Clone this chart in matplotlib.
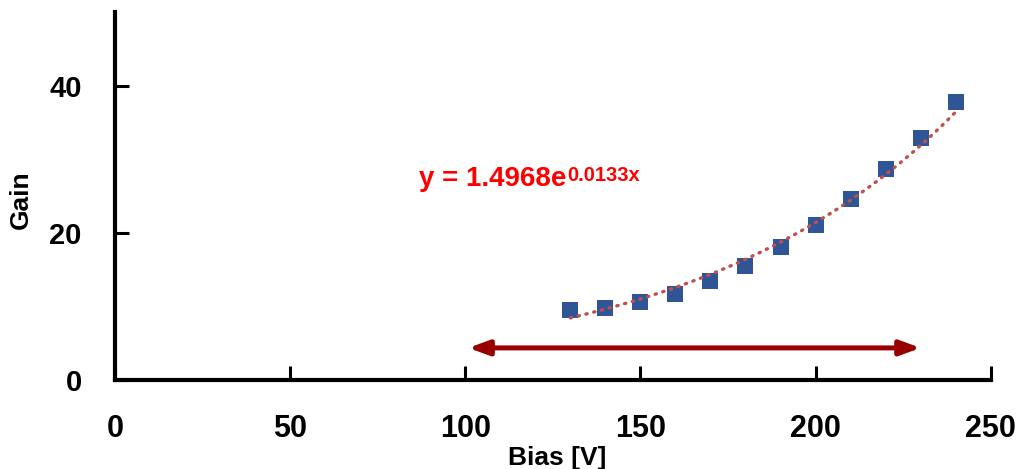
import numpy as np
import matplotlib
matplotlib.use("Agg")
import matplotlib.pyplot as plt

bias = [130, 140, 150, 160, 170, 180, 190, 200, 210, 220, 230, 240]
gain = [9.5, 9.8, 10.65, 11.7, 13.4, 15.5, 18.1, 21.1, 24.6, 28.7, 32.9, 37.8]
fit_a = 1.4968
fit_b = 0.0133
fit_main = "y = 1.4968e"
fit_sup = "0.0133x"
arrow_x = [100.9, 230]
arrow_y = 4.35
xticks = [0, 50, 100, 150, 200, 250]
yticks = [0, 20, 40]

plt.rcParams['font.family'] = ['Liberation Sans', 'DejaVu Sans']
plt.rcParams['font.weight'] = 'bold'

fig = plt.figure(figsize=(10.23, 4.69), dpi=100)
ax = fig.add_axes([0.1124, 0.190, 0.856, 0.784])

xs = np.linspace(bias[0], bias[-1], 200)
ax.plot(xs, fit_a * np.exp(fit_b * xs), color='#C0504D', lw=2.4,
        linestyle=(0, (0.4, 2.0)), dash_capstyle='round', zorder=3)
ax.plot(bias, gain, 's', color='#2F5597', markersize=11.3, markeredgewidth=0, zorder=2)

ax.annotate('', xy=(arrow_x[0], arrow_y), xytext=(arrow_x[1], arrow_y),
            arrowprops=dict(arrowstyle='<|-|>,head_length=0.6,head_width=0.22',
                            color='#990000', lw=3.6,
                            mutation_scale=20, shrinkA=0, shrinkB=0))

t = ax.text(86.9, 26.4, fit_main, color='#FF0000', fontsize=20, fontweight='bold',
            ha='left', va='baseline')
ax.annotate(fit_sup, xy=(1, 0), xycoords=t, xytext=(0.5, 7.5), textcoords='offset points',
            color='#FF0000', fontsize=14.5, fontweight='bold', ha='left', va='baseline')

ax.set_xlim(0, 250)
ax.set_ylim(0, 50)
ax.set_xticks(xticks)
ax.set_yticks(yticks)
ax.tick_params(axis='both', direction='in', length=10, width=2.2)
ax.tick_params(axis='x', pad=24.5, labelsize=22)
ax.tick_params(axis='y', pad=24, labelsize=21)
for lbl in ax.get_xticklabels() + ax.get_yticklabels():
    lbl.set_fontweight('bold')
for s in ['top', 'right']:
    ax.spines[s].set_visible(False)
for s in ['left', 'bottom']:
    ax.spines[s].set_linewidth(3)

ax.set_xlabel('Bias [V]', fontsize=19, fontweight='bold', va='baseline')
ax.xaxis.set_label_coords(0.505, -0.231)
ax.set_ylabel('Gain', fontsize=19, fontweight='bold', va='center')
ax.yaxis.set_label_coords(-0.107, 0.49)

fig.savefig('out.png', dpi=100)
